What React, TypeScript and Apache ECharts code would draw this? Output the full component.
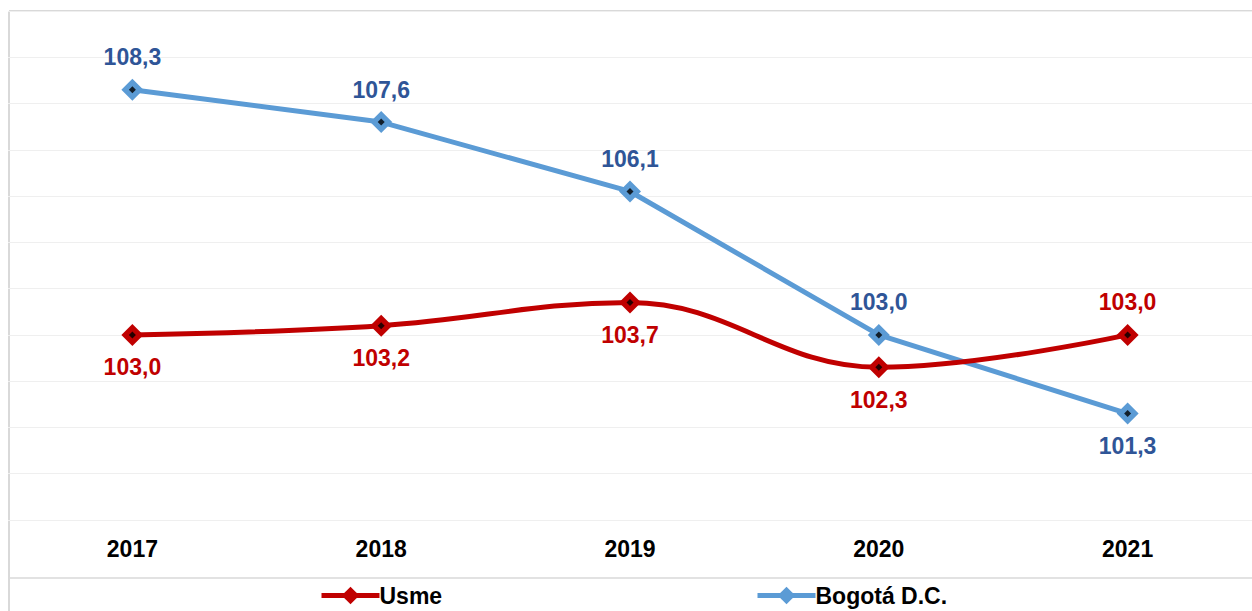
import React, { useEffect, useRef } from "react";
import * as echarts from "echarts";

const years = ["2017", "2018", "2019", "2020", "2021"];
const usme = [103.0, 103.2, 103.7, 102.3, 103.0];
const bogota = [108.3, 107.6, 106.1, 103.0, 101.3];
const usmeLabelPos = ["bottom", "bottom", "bottom", "bottom", "top"];
const bogotaLabelPos = ["top", "top", "top", "top", "bottom"];

const RED = "#c00000";
const BLUE = "#5b9bd5";
const BLUE_TEXT = "#2f5597";
const FONT = "'Liberation Sans', Arial, sans-serif";

const fmt = (v: number) => v.toFixed(1).replace(".", ",");

export default function App() {
  const ref = useRef<HTMLDivElement>(null);
  useEffect(() => {
    document.body.style.margin = "0";
    const chart = echarts.init(ref.current!, undefined, { renderer: "svg" });
    const mkData = (vals: number[], pos: string[], color: string) =>
      vals.map((v, i) => ({
        value: v,
        label: {
          show: true,
          position: pos[i],
          distance: 10,
          formatter: () => fmt(v),
          color,
          fontSize: 23,
          fontWeight: "bold",
          fontFamily: FONT,
        },
      }));
    const legendText = {
      color: "#000",
      fontSize: 23,
      lineHeight: 23,
      fontWeight: "bold",
      fontFamily: FONT,
      padding: [0, 0, 0, -5],
    };
    chart.setOption({
      animation: false,
      backgroundColor: "#ffffff",
      grid: { left: 8, right: -4, top: 11, bottom: 91, containLabel: false },
      xAxis: {
        type: "category",
        data: years,
        boundaryGap: true,
        axisLine: { show: false },
        axisTick: { show: false },
        axisLabel: {
          color: "#000",
          fontSize: 23,
          fontWeight: "bold",
          fontFamily: FONT,
          margin: 17,
        },
      },
      yAxis: {
        type: "value",
        min: 99,
        max: 110,
        interval: 1,
        axisLabel: { show: false },
        axisLine: { show: false },
        axisTick: { show: false },
        splitLine: { lineStyle: { color: "#efefef", width: 1 } },
      },
      legend: [
        {
          data: ["Usme"],
          left: 319,
          top: 584,
          padding: 0,
          itemWidth: 58,
          itemHeight: 22,
          lineStyle: { width: 5 },
          textStyle: legendText,
        },
        {
          data: ["Bogotá D.C."],
          left: 755,
          top: 584,
          padding: 0,
          itemWidth: 58,
          itemHeight: 22,
          lineStyle: { width: 5 },
          textStyle: legendText,
        },
      ],
      series: [
        {
          name: "Usme",
          type: "line",
          smooth: 0.4,
          data: mkData(usme, usmeLabelPos, RED),
          symbol: "diamond",
          symbolSize: 22,
          lineStyle: { color: RED, width: 5 },
          itemStyle: { color: RED },
          z: 3,
        },
        {
          name: "Bogotá D.C.",
          type: "line",
          data: mkData(bogota, bogotaLabelPos, BLUE_TEXT),
          symbol: "diamond",
          symbolSize: 22,
          lineStyle: { color: BLUE, width: 5 },
          itemStyle: { color: BLUE },
          z: 2,
        },
        {
          name: "usmeDot",
          type: "scatter",
          data: usme,
          symbol: "diamond",
          symbolSize: 7,
          itemStyle: { color: "#000" },
          silent: true,
          z: 5,
        },
        {
          name: "bogotaDot",
          type: "scatter",
          data: bogota,
          symbol: "diamond",
          symbolSize: 7,
          itemStyle: { color: "#000" },
          silent: true,
          z: 5,
        },
      ],
      graphic: [
        { type: "line", shape: { x1: 9, y1: 11, x2: 1252, y2: 11 }, style: { stroke: "#d9d9d9", lineWidth: 2 } },
        { type: "line", shape: { x1: 9, y1: 11, x2: 9, y2: 611 }, style: { stroke: "#d9d9d9", lineWidth: 2 } },
        { type: "line", shape: { x1: 9, y1: 578, x2: 1252, y2: 578 }, style: { stroke: "#d9d9d9", lineWidth: 1.5 } },
      ],
    });
    return () => chart.dispose();
  }, []);
  return <div ref={ref} style={{ width: 1252, height: 611 }} />;
}
